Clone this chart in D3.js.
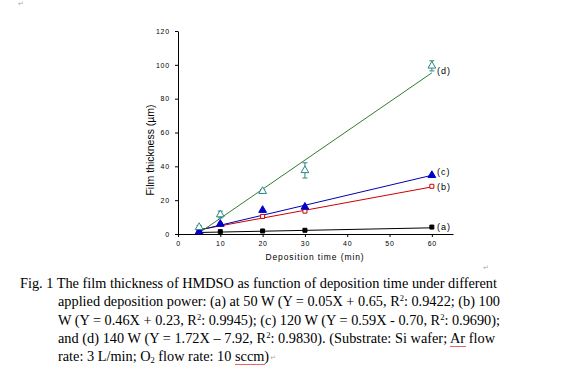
<!DOCTYPE html>
<html>
<head>
<meta charset="utf-8">
<style>
  body { margin: 0; background: #fff; }
  svg { display: block; }
  .tick text { font-family: "Liberation Sans", Arial, sans-serif; font-size: 7px; letter-spacing: 0.8px; fill: #000; }
  .axis path, .axis line { stroke: #000; stroke-width: 1; }
  .cap { font-family: "Liberation Serif", "Times New Roman", serif; font-size: 14.3px; fill: #000; }
  .mark { font-family: "DejaVu Sans", sans-serif; font-size: 7px; fill: #aaa; }
</style>
</head>
<body>
<div id="chart"></div>
<script src="https://d3js.org/d3.v7.min.js"></script>
<script>
// deposition time (min)
var times = [5, 10, 20, 30, 60];
// measured film thickness (um)
var seriesA = [1.0, 1.4, 1.8, 2.2, 4.1];
var seriesB = [2.4, 5.7, 10.4, 13.5, 28.2];
var seriesC = [1.4, 5.9, 14.1, 16.0, 34.7];
var seriesD = [4.0, 11.5, 25.3, 37.6, 99.4];
var errD = [1.0, 2.0, 1.0, 4.5, 3.0];
// linear fits  Y = slope * X + intercept
var fitSlope = [0.05, 0.46, 0.59, 1.72];
var fitIntercept = [0.65, 0.23, -0.70, -7.92];
var seriesNames = ["(a)", "(b)", "(c)", "(d)"];
var xTicks = [0, 10, 20, 30, 40, 50, 60];
var yTicks = [0, 20, 40, 60, 80, 100, 120];

var width = 582, height = 375;
var svg = d3.select("#chart").append("svg")
    .attr("width", width).attr("height", height);
svg.append("rect").attr("width", width).attr("height", height).attr("fill", "#fff");

var x = d3.scaleLinear().domain([0, 65]).range([178, 453]);
var y = d3.scaleLinear().domain([0, 120]).range([234, 31]);

svg.append("g").attr("class", "axis")
    .attr("transform", "translate(0,234)")
    .call(d3.axisBottom(x).tickValues(xTicks).tickSize(3).tickSizeOuter(0))
    .selectAll("text").attr("dy", "0.9em");
svg.append("g").attr("class", "axis")
    .attr("transform", "translate(178,0)")
    .call(d3.axisLeft(y).tickValues(yTicks).tickSize(3).tickSizeOuter(0))
    .selectAll("text").attr("x", -8);

svg.append("text")
    .attr("x", 315).attr("y", 260)
    .attr("text-anchor", "middle")
    .style("font-family", "Liberation Sans, Arial, sans-serif")
    .style("font-size", "8.5px").style("letter-spacing", "0.9px")
    .text("Deposition time (min)");
svg.append("text")
    .attr("transform", "translate(154,150) rotate(-90)")
    .attr("text-anchor", "middle")
    .style("font-family", "Liberation Sans, Arial, sans-serif")
    .style("font-size", "10.5px")
    .text("Film thickness (\u00b5m)");

var series = [
  { vals: seriesA, line: "#000000", mark: "#000000", shape: "square", fill: true },
  { vals: seriesB, line: "#cc0000", mark: "#cc0000", shape: "square", fill: false },
  { vals: seriesC, line: "#0000b0", mark: "#0000cc", shape: "tri", fill: true },
  { vals: seriesD, line: "#2e7d32", mark: "#2a8585", shape: "tri", fill: false, err: errD }
];

// fit lines
series.forEach(function (s, i) {
  var x0 = times[0], x1 = times[times.length - 1];
  svg.append("line")
      .attr("x1", x(x0)).attr("y1", y(fitSlope[i] * x0 + fitIntercept[i]))
      .attr("x2", x(x1)).attr("y2", y(fitSlope[i] * x1 + fitIntercept[i]))
      .attr("stroke", s.line).attr("stroke-width", 1);
});

// error bars
series.forEach(function (s) {
  if (!s.err) return;
  var g = svg.append("g").attr("stroke", s.mark).attr("stroke-width", 1);
  times.forEach(function (t, j) {
    var cx = x(t), top = y(s.vals[j] + s.err[j]), bot = y(s.vals[j] - s.err[j]);
    g.append("line").attr("x1", cx).attr("x2", cx).attr("y1", top).attr("y2", bot);
    g.append("line").attr("x1", cx - 2.5).attr("x2", cx + 2.5).attr("y1", top).attr("y2", top);
    g.append("line").attr("x1", cx - 2.5).attr("x2", cx + 2.5).attr("y1", bot).attr("y2", bot);
  });
});

// markers
var sq = d3.symbol().type(d3.symbolSquare).size(16);
var tri = d3.symbol().type(d3.symbolTriangle).size(26);
series.forEach(function (s) {
  svg.append("g").selectAll("path")
      .data(s.vals).enter().append("path")
      .attr("transform", function (d, j) { return "translate(" + x(times[j]) + "," + y(d) + ")"; })
      .attr("d", s.shape === "square" ? sq : tri)
      .attr("fill", s.fill ? s.mark : "#fff")
      .attr("stroke", s.mark).attr("stroke-width", 1);
});

// series labels
var labelY = [227, 187, 172, 71];
seriesNames.forEach(function (n, i) {
  svg.append("text")
      .attr("x", 437).attr("y", labelY[i]).attr("dy", "0.35em")
      .style("font-family", "Liberation Sans, Arial, sans-serif")
      .style("font-size", "9px").style("letter-spacing", "1px")
      .text(n);
});

// paragraph marks
svg.append("text").attr("class", "mark").attr("x", 18).attr("y", 6).text("\u21b5");
svg.append("text").attr("class", "mark").attr("x", 483).attr("y", 270).text("\u21b5");

// caption
var capLines = [
  { x: 20, y: 288, w: 477, parts: [["Fig. 1 The film thickness of HMDSO as function of deposition time under different"]] },
  { x: 58, y: 306, w: 442, parts: [["applied deposition power: (a) at 50 W (Y = 0.05X + 0.65, R"], ["2", "sup"], [": 0.9422; (b) 100"]] },
  { x: 58, y: 325, w: 442, parts: [["W (Y = 0.46X + 0.23, R"], ["2", "sup"], [": 0.9945); (c) 120 W (Y = 0.59X - 0.70, R"], ["2", "sup"], [": 0.9690);"]] },
  { x: 58, y: 343, w: 437, parts: [["and (d) 140 W (Y = 1.72X \u2013 7.92, R"], ["2", "sup"], [": 0.9830). (Substrate: Si wafer; "], ["Ar", "wavy"], [" flow"]] },
  { x: 58, y: 361, parts: [["rate: 3 L/min; O"], ["2", "sub"], [" flow rate: 10 "], ["sccm", "wavy"], [")"]] }
];
var wavy = [];
capLines.forEach(function (ln) {
  var t = svg.append("text").attr("class", "cap").attr("x", ln.x).attr("y", ln.y);
  ln.parts.forEach(function (p) {
    var ts = t.append("tspan").text(p[0]);
    if (p[1] === "sup") ts.attr("dy", -5).style("font-size", "8.5px");
    if (p[1] === "sub") ts.attr("dy", 2).style("font-size", "8.5px");
    if (p[1] === "sup" || p[1] === "sub") {
      ts.attr("class", "shift");
    }
    if (p[1] === "wavy") wavy.push(ts);
  });
  // restore baseline after sup/sub
  t.selectAll("tspan").each(function (d, k, nodes) {
    var prev = k > 0 ? d3.select(nodes[k - 1]) : null;
    if (prev && prev.classed("shift")) {
      d3.select(this).attr("dy", -(+prev.attr("dy")));
    }
  });
  if (ln.w) {
    var len = t.node().getComputedTextLength();
    var sp = (ln.w - len) / (t.text().split(" ").length - 1);
    if (sp > -2 && sp < 3) t.style("word-spacing", sp + "px");
  }
});
wavy.forEach(function (ts) {
  var b = ts.node().getBBox();
  var yy = b.y + b.height, d = "M" + b.x + "," + yy;
  for (var xx = b.x; xx < b.x + b.width; xx += 2) {
    d += " L" + (xx + 1) + "," + (yy + 1) + " L" + (xx + 2) + "," + yy;
  }
  svg.append("path").attr("d", d).attr("fill", "none").attr("stroke", "#e02020").attr("stroke-width", 0.7);
});
var last = svg.selectAll("text.cap").nodes().pop();
var lb = last.getBBox();
svg.append("text").attr("class", "mark").attr("x", lb.x + lb.width + 1).attr("y", 360).text("\u21b5");
</script>
</body>
</html>
